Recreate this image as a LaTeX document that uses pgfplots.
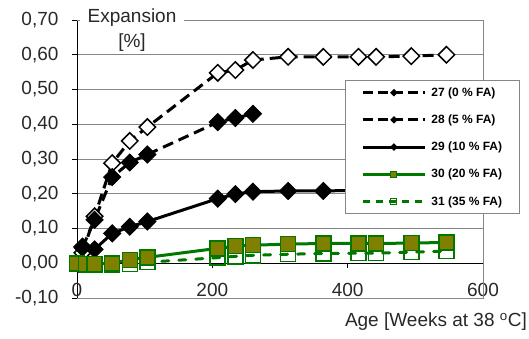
\documentclass[border=0pt]{standalone}
\usepackage{pgfplots}
\pgfplotsset{compat=1.18}
\usepackage{pgfplotstable}
\usepackage{fontspec}
\setmainfont{Liberation Sans}
\definecolor{xlgreen}{RGB}{0,120,0}
\definecolor{xlolive}{RGB}{128,128,0}
\definecolor{gridgray}{RGB}{134,134,134}
\definecolor{txt}{RGB}{40,40,40}

\pgfplotstableread{
x y
8 0.030
26 0.135
52 0.288
78 0.352
104 0.392
208 0.548
234 0.556
260 0.585
312 0.594
364 0.594
416 0.594
442 0.594
494 0.596
546 0.600
}\sA
\pgfplotstableread{
x y
8 0.045
26 0.125
52 0.248
78 0.290
104 0.313
208 0.406
234 0.418
260 0.430
}\sB
\pgfplotstableread{
x y
8 0.048
26 0.040
52 0.086
78 0.105
104 0.120
208 0.186
234 0.199
260 0.206
312 0.208
364 0.208
416 0.210
442 0.210
494 0.210
546 0.210
}\sC
\pgfplotstableread{
x y
0 0.000
13 -0.002
26 -0.002
52 0.000
78 0.010
104 0.017
208 0.043
234 0.049
260 0.052
312 0.055
364 0.057
416 0.057
442 0.057
494 0.058
546 0.060
}\sD
\pgfplotstableread{
x y
0 -0.002
13 -0.004
26 -0.005
52 -0.005
78 -0.002
104 0.003
208 0.016
234 0.020
260 0.023
312 0.026
364 0.028
416 0.029
442 0.029
494 0.032
546 0.035
}\sE

\begin{document}
\begin{tikzpicture}
\useasboundingbox (-77pt,-40pt) rectangle (452pt,298pt);
\begin{axis}[
  scale only axis, width=406pt, height=278pt,
  xmin=0, xmax=600, ymin=-0.1, ymax=0.7,
  enlargelimits=false,
  axis x line=middle, axis y line=left,
  axis line style={-, black, line width=1pt},
  xtick={0,200,400,600}, xticklabels={0,200,400,600},
  ytick={-0.1,0,0.1,0.2,0.3,0.4,0.5,0.6,0.7},
  yticklabels={{-0,10},{0,00},{0,10},{0,20},{0,30},{0,40},{0,50},{0,60},{0,70}},
  tick align=outside, major tick length=5pt,
  tick style={black, line width=0.8pt},
  hide obscured x ticks=false,
  ymajorgrids, grid style={gridgray, line width=1pt},
  tick label style={font=\fontsize{19}{22}\selectfont, text=txt},
  xticklabel style={yshift=-11pt},
  yticklabel style={xshift=-10pt},
  clip=false,
  legend image code/.code={\draw[mark repeat=2,mark phase=2,#1] plot coordinates {(0pt,0pt)(31pt,0pt)(62pt,0pt)};},
  legend style={at={(rel axis cs:0.66,0.784)}, anchor=north west, draw=gridgray, line width=1pt, fill=white,
    font=\fontsize{12}{14}\selectfont\bfseries, inner xsep=16pt, inner ysep=6pt, row sep=15pt,
    nodes={inner sep=1pt}},
  /tikz/every odd column/.append style={column sep=4pt},
  legend cell align=left,
]
\draw[gridgray, line width=1pt] (rel axis cs:0,0) -- (rel axis cs:1,0) -- (rel axis cs:1,1) -- (rel axis cs:0,1);

\addlegendimage{black, line width=3pt, dash pattern=on 10pt off 5pt, mark=square*, mark size=2.2pt, mark options={rotate=45, solid, fill=black, line width=1pt}}
\addlegendentry{27 (0 \% FA)}
\addlegendimage{black, line width=3pt, dash pattern=on 10pt off 5pt, mark=square*, mark size=2.2pt, mark options={rotate=45, solid, fill=black, line width=1pt}}
\addlegendentry{28 (5 \% FA)}
\addlegendimage{black, line width=3pt, mark=square*, mark size=2.2pt, mark options={rotate=45, solid, fill=black, line width=1pt}}
\addlegendentry{29 (10 \% FA)}
\addlegendimage{xlgreen, line width=3pt, mark=square*, mark size=3pt, mark options={solid, fill=xlolive, draw=xlgreen, line width=1pt}}
\addlegendentry{30 (20 \% FA)}
\addlegendimage{xlgreen, line width=3pt, dash pattern=on 7pt off 6pt, mark=square, mark size=3pt, mark options={solid, draw=xlgreen, line width=1pt}}
\addlegendentry{31 (35 \% FA)}

\addplot[forget plot, black, line width=3pt, dash pattern=on 11pt off 6pt, mark=square*, mark size=5.8pt,
  mark options={rotate=45, solid, fill=white, draw=black, line width=1.5pt}] table[x=x,y=y] {\sA};
\addplot[forget plot, black, line width=3pt, dash pattern=on 11pt off 6pt, mark=square*, mark size=6pt,
  mark options={rotate=45, solid, fill=black, draw=black, line width=1pt}] table[x=x,y=y] {\sB};
\addplot[forget plot, black, line width=3pt, mark=square*, mark size=6pt,
  mark options={rotate=45, solid, fill=black, draw=black, line width=1pt}] table[x=x,y=y] {\sC};
\addplot[forget plot, xlgreen, line width=3pt, line cap=round, dash pattern=on 7pt off 10pt, mark=square, mark size=7.5pt,
  mark options={solid, draw=xlgreen, line width=1.5pt}] table[x=x,y=y] {\sE};
\addplot[forget plot, xlgreen, line width=3pt, mark=square*, mark size=7.5pt,
  mark options={solid, fill=xlolive, draw=xlgreen, line width=1.5pt}] table[x=x,y=y] {\sD};

\node[fill=white, align=center, font=\fontsize{19}{25}\selectfont, text=txt, inner xsep=8pt, inner ysep=2pt]
  at (rel axis cs:0.1355,0.964) {Expansion\\{[\%]}};
\end{axis}
\node[anchor=east, font=\fontsize{19}{22}\selectfont, text=txt, inner sep=0pt] at (450pt,-24pt) {Age [Weeks at 38 \textsuperscript{o}C]};
\end{tikzpicture}
\end{document}
